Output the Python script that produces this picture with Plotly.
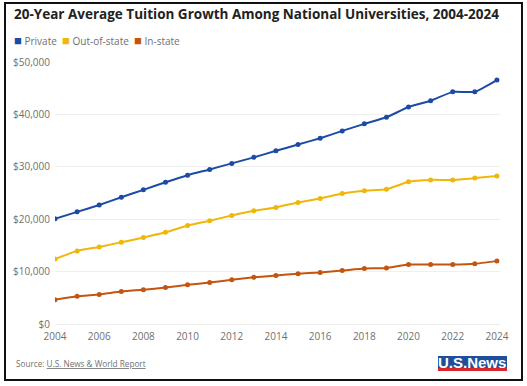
import plotly.graph_objects as go

years = list(range(2004, 2025))
private = [20100, 21400, 22700, 24200, 25600, 27050, 28400, 29500, 30650, 31800, 33050,
           34250, 35450, 36850, 38200, 39450, 41400, 42600, 44300, 44300, 46550]
out_of_state = [12400, 13950, 14700, 15600, 16500, 17500, 18800, 19700, 20700, 21600, 22250,
                23200, 23950, 24900, 25450, 25700, 27150, 27500, 27500, 27850, 28250]
in_state = [4650, 5300, 5650, 6200, 6550, 6950, 7500, 7900, 8450, 8900, 9250,
            9600, 9850, 10200, 10600, 10700, 11350, 11350, 11350, 11500, 12000]

series_names = ["Private", "Out-of-state", "In-state"]
series_values = [private, out_of_state, in_state]
colors = ["#1c4ba6", "#f0b70a", "#c4550f"]

y_ticks = [0, 10000, 20000, 30000, 40000, 50000]
y_tick_labels = ["$0", "$10,000", "$20,000", "$30,000", "$40,000", "$50,000"]
x_ticks = years[::2]

FONT = "Open Sans"
GRAY = "#707070"

fig = go.Figure()
for name, vals, c in zip(series_names, series_values, colors):
    fig.add_trace(go.Scatter(
        x=years, y=vals, name=name, mode="lines+markers",
        line=dict(color=c, width=2, shape="spline", smoothing=0.4),
        marker=dict(color=c, size=5),
        showlegend=False,
        hovertemplate="%{x}: $%{y:,}<extra>" + name + "</extra>",
    ))

W, H = 527, 386
L, R, T, B = 55, 27, 62, 62
pw, ph = W - L - R, H - T - B


def px(x):
    return (x - L) / pw


def py(y):
    return (H - B - y) / ph


shapes = [
    dict(type="rect", xref="paper", yref="paper", x0=px(5), x1=px(522), y0=py(380), y1=py(3),
         line=dict(color="#111111", width=2), fillcolor="rgba(0,0,0,0)", layer="above"),
    dict(type="rect", xref="paper", yref="paper", x0=px(438), x1=px(507), y0=py(368), y1=py(356),
         line=dict(width=0), fillcolor="#1d4f9c"),
    dict(type="rect", xref="paper", yref="paper", x0=px(438), x1=px(507), y0=py(371), y1=py(368),
         line=dict(width=0), fillcolor="#d9262c"),
]

legend_text = "&nbsp;&nbsp;".join(
    f"<span style='color:{c};font-size:13px'>■</span>&nbsp;{n}" for n, c in zip(series_names, colors)
)

annotations = [
    dict(xref="paper", yref="paper", x=px(12), y=py(40), xanchor="left", yanchor="middle",
         text=legend_text, showarrow=False,
         font=dict(family=FONT, size=10, color=GRAY)),
    dict(xref="paper", yref="paper", x=px(14), y=py(363), xanchor="left", yanchor="middle",
         text="Source: <u>U.S. News &amp; World Report</u>", showarrow=False,
         font=dict(family=FONT, size=8.2, color=GRAY)),
    dict(xref="paper", yref="paper", x=px(472), y=py(362.5), xanchor="center", yanchor="middle",
         text="<b>U.S.News</b>", showarrow=False,
         font=dict(family="Liberation Sans", size=15, color="white")),
]

fig.update_layout(
    width=W, height=H,
    margin=dict(l=L, r=R, t=T, b=B, autoexpand=False),
    paper_bgcolor="white", plot_bgcolor="white",
    font=dict(family=FONT, color=GRAY, size=10),
    showlegend=False,
    title=dict(text="<b>20-Year Average Tuition Growth Among National Universities, 2004-2024</b>",
               x=14 / W, xanchor="left", xref="container",
               y=1 - 14 / H, yanchor="middle", yref="container",
               font=dict(family=FONT, size=13.5, color="#222222")),
    xaxis=dict(range=[2004, 2024.14], tickmode="array", tickvals=x_ticks,
               showgrid=False, zeroline=False, showline=True, linecolor="#eeeeee",
               ticks="", automargin=False, ticklabelstandoff=3,
               tickfont=dict(size=10, color=GRAY)),
    yaxis=dict(range=[0, 50000], tickmode="array", tickvals=y_ticks, ticktext=y_tick_labels,
               showgrid=True, gridcolor="#efefef", automargin=False, ticklabelstandoff=4,
               zeroline=False, ticks="", tickfont=dict(size=10, color=GRAY)),
    shapes=shapes,
    annotations=annotations,
)

fig.write_html("out.html", config={"displayModeBar": False},
               post_script="document.body.style.margin='0';")
